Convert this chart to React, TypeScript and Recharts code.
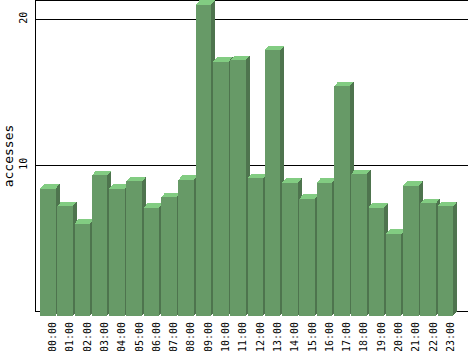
import React from 'react';
import { BarChart, Bar, XAxis, YAxis, CartesianGrid } from 'recharts';

const HOURS = [
  '00:00', '01:00', '02:00', '03:00', '04:00', '05:00', '06:00', '07:00',
  '08:00', '09:00', '10:00', '11:00', '12:00', '13:00', '14:00', '15:00',
  '16:00', '17:00', '18:00', '19:00', '20:00', '21:00', '22:00', '23:00',
];
const ACCESSES = [
  8.7, 7.5, 6.3, 9.6, 8.7, 9.2, 7.4, 8.1,
  9.3, 21.3, 17.4, 17.5, 9.4, 18.2, 9.1, 8.0,
  9.1, 15.7, 9.7, 7.4, 5.6, 8.9, 7.7, 7.5,
];
const Y_TICKS = [0, 10, 20];
const Y_MAX = 21.32;

const data = HOURS.map((hour, i) => ({ hour, accesses: ACCESSES[i] }));

const FRONT = '#679a67';
const TOP = '#82cc82';
const SIDE = '#4e744e';
const DEPTH_X = 4;
const DEPTH_Y = 4.5;
const FONT = '"DejaVu Sans Mono", monospace';

// front face sits a little below/left of the value plane, top + side fake the depth
function Bar3D(props: any) {
  const { x, y, width, height } = props;
  const fy = y + DEPTH_Y;
  const bottom = y + height + DEPTH_Y;
  const r = x + width;
  return (
    <g shapeRendering="crispEdges">
      <polygon
        points={`${r},${fy} ${r + DEPTH_X},${y} ${r + DEPTH_X},${y + height} ${r},${bottom}`}
        fill={SIDE}
      />
      <polygon
        points={`${x},${fy} ${x + DEPTH_X},${y} ${r + DEPTH_X},${y} ${r},${fy}`}
        fill={TOP}
      />
      <rect x={x} y={fy} width={width} height={bottom - fy} fill={FRONT} />
    </g>
  );
}

function HourTick({ x, y, payload }: any) {
  const tx = x + 8.5;
  const ty = y + 9;
  return (
    <text
      x={tx}
      y={ty}
      transform={`rotate(-90, ${tx}, ${ty})`}
      textAnchor="end"
      fontFamily={FONT}
      fontSize={10}
      fill="#000"
    >
      {payload.value}
    </text>
  );
}

function CountTick({ y, payload }: any) {
  if (payload.value === 0) return null;
  const tx = 27;
  const ty = y - 1.5;
  return (
    <text
      x={tx}
      y={ty}
      transform={`rotate(-90, ${tx}, ${ty})`}
      textAnchor="middle"
      fontFamily={FONT}
      fontSize={10}
      fill="#000"
    >
      {payload.value}
    </text>
  );
}

const yLabel = () => (
  <text
    x={13}
    y={156}
    transform="rotate(-90, 13, 156)"
    textAnchor="middle"
    fontFamily={FONT}
    fontSize={13}
    fill="#000"
  >
    accesses
  </text>
);

export default function App() {
  return (
    <div style={{ position: 'absolute', left: 0, top: 0, background: '#fff' }}>
      <BarChart
        width={468}
        height={351}
        data={data}
        margin={{ top: 0, right: 0, bottom: 0, left: 0 }}
      >
        <CartesianGrid vertical={false} stroke="#000" strokeWidth={1} shapeRendering="crispEdges" />
        <XAxis
          dataKey="hour"
          height={40}
          axisLine={false}
          tickLine={false}
          tickSize={0}
          interval={0}
          padding={{ left: 4, right: 14 }}
          tick={<HourTick />}
        />
        <YAxis
          width={35}
          domain={[0, Y_MAX]}
          ticks={Y_TICKS}
          axisLine={{ stroke: '#000', shapeRendering: 'crispEdges' }}
          tickLine={false}
          tick={<CountTick />}
          label={yLabel}
        />
        <Bar
          dataKey="accesses"
          barSize={15.6}
          shape={<Bar3D />}
          isAnimationActive={false}
        />
      </BarChart>
    </div>
  );
}
